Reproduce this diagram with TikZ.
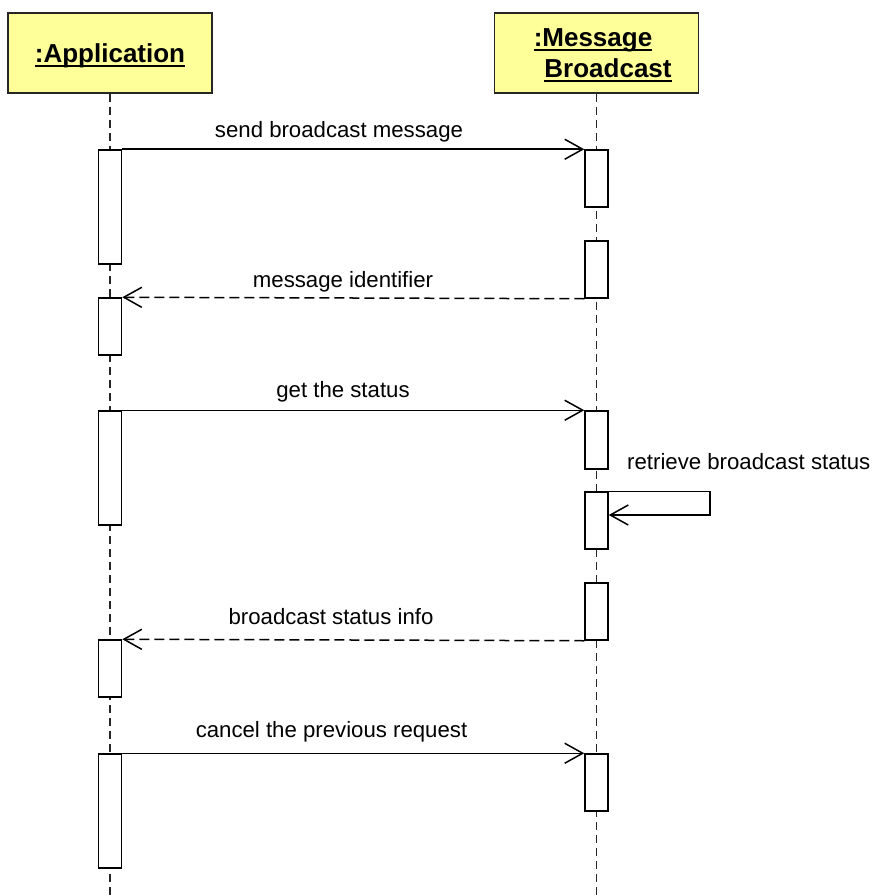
\documentclass[tikz,border=0pt]{standalone}
\usepackage{fontspec}
\setmainfont{Liberation Sans}
\usetikzlibrary{arrows.meta}

\newcommand\headul[1]{\setbox0=\hbox{#1}\rlap{\copy0}\rule[-4.5pt]{\wd0}{2pt}}

\begin{document}
\begin{tikzpicture}[x=1pt,y=-1pt,
		obj/.style={draw=black!85,line width=1.5pt,fill={rgb,255:red,255;green,255;blue,153},minimum width=204pt,minimum height=80pt,inner sep=0pt},
		hd/.style={anchor=base,inner sep=0pt,font=\bfseries\fontsize{26}{30}\selectfont},
		life/.style={black!85,line width=1.5pt,dash pattern=on 8pt off 5pt},
		act/.style={draw,line width=1.5pt,fill=white,minimum width=23pt,inner sep=0pt},
		call/.style={line width=1.5pt,-{Straight Barb[length=18pt,width=20pt]}},
		reply/.style={call,dash pattern=on 10pt off 5pt},
		txt/.style={anchor=base,inner sep=0pt,font=\fontsize{22.2}{26}\selectfont}]
	\useasboundingbox (0,0) rectangle (876,896);
	
	% objects
	\node[obj] (app) at (110,53) {};
	\node[obj] (mb) at (596.5,53) {};
	\node[hd] (t1) at (110,63) {\headul{:Application}};
	\node[hd] (t2) at (593,47) {\headul{:Message}};
	\node[hd] (t3) at (608,78) {\headul{Broadcast}};
	
	% lifelines
	\draw[life] (app.south) -- (110,896);
	\draw[life] (mb.south) -- (596.5,896);
	
	% activations
	\foreach \n/\ya/\yb in {1/150/264,2/298/355,3/411/525,4/640/697,5/754/868}
		\node[act,minimum height={(\yb-\ya)*1pt}] (a\n) at (110,{(\ya+\yb)/2}) {};
	\foreach \n/\ya/\yb in {1/150/207,2/241/298,3/411/469,4/492/549,5/583/640,6/754/811}
		\node[act,minimum height={(\yb-\ya)*1pt}] (m\n) at (596.5,{(\ya+\yb)/2}) {};
	
	% messages
	\draw[call] (a1.north east) -- (m1.north west);
	\draw[reply] (m2.south west) -- (a2.north east);
	\draw[call] (a3.north east) -- (m3.north west);
	\coordinate (self) at (710,515);
	\draw[call] (m4.north east) -- (self |- m4.north east) -- (self) -- (self -| m4.east);
	\draw[reply] (m5.south west) -- (a4.north east);
	\draw[call] (a5.north east) -- (m6.north west);
	
	\node[txt] (l1) at (339,138) {send broadcast message};
	\node[txt] (l2) at (343,287) {message identifier};
	\node[txt] (l3) at (343,397) {get the status};
	\node[txt,anchor=base west] (l4) at (627,469) {retrieve broadcast status};
	\node[txt] (l5) at (331,624) {broadcast status info};
	\node[txt] (l6) at (331.5,737) {cancel the previous request};
\end{tikzpicture}
\end{document}
